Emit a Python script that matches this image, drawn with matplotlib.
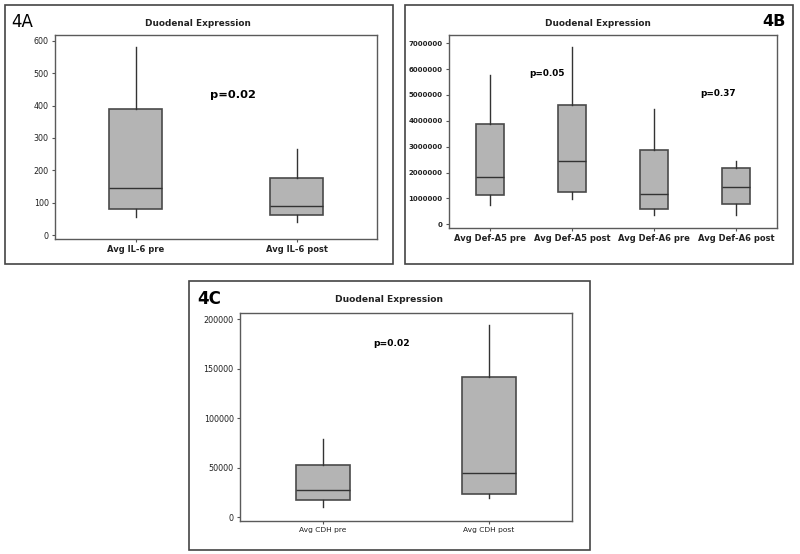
import matplotlib
matplotlib.use("Agg")
import matplotlib.pyplot as plt
from matplotlib.patches import Rectangle

W, H = 800, 554

# ---- data (whisker low, Q1, median, Q3, whisker high) ----
il6_labels = ["Avg IL-6 pre", "Avg IL-6 post"]
il6_low = [56, 41]
il6_q1 = [80, 62]
il6_med = [147, 90]
il6_q3 = [389, 177]
il6_high = [580, 265]

def_labels = ["Avg Def-A5 pre", "Avg Def-A5 post", "Avg Def-A6 pre", "Avg Def-A6 post"]
def_low = [750000, 970000, 360000, 360000]
def_q1 = [1130000, 1240000, 580000, 770000]
def_med = [1820000, 2440000, 1180000, 1430000]
def_q3 = [3870000, 4600000, 2890000, 2170000]
def_high = [5770000, 6870000, 4450000, 2460000]

cdh_labels = ["Avg CDH pre", "Avg CDH post"]
cdh_low = [10400, 18900]
cdh_q1 = [16900, 23600]
cdh_med = [27000, 44200]
cdh_q3 = [52300, 141300]
cdh_high = [78900, 194200]

BOX_FILL = "#b4b4b4"
EDGE = "#4a4a4a"
TEXT = "#222222"


def px_axes(fig, left, top, right, bottom):
    return fig.add_axes([left / W, 1 - bottom / H, (right - left) / W, (bottom - top) / H])


def frame(fig, left, top, right, bottom):
    fig.patches.append(Rectangle((left / W, 1 - bottom / H), (right - left) / W, (bottom - top) / H,
                                 transform=fig.transFigure, fill=False, edgecolor="#444444", lw=1.2))


def draw_boxes(ax, labels, low, q1, med, q3, high, width):
    stats = []
    for i in range(len(labels)):
        stats.append(dict(whislo=low[i], q1=q1[i], med=med[i], q3=q3[i], whishi=high[i], fliers=[]))
    ax.bxp(stats, positions=range(1, len(labels) + 1), widths=width, patch_artist=True,
           showcaps=False, showfliers=False,
           boxprops=dict(facecolor=BOX_FILL, edgecolor=EDGE, lw=1.2),
           medianprops=dict(color="#333333", lw=1.0),
           whiskerprops=dict(color="#333333", lw=1.0))
    ax.set_xlim(0.5, len(labels) + 0.5)
    ax.set_xticks(range(1, len(labels) + 1))
    ax.set_xticklabels(labels)
    for sp in ax.spines.values():
        sp.set_color("#5a5a5a")
        sp.set_linewidth(1.0)
    ax.tick_params(axis="both", direction="out", length=2.5, width=0.8, color="#555555",
                   labelcolor=TEXT, pad=2)
    ax.tick_params(axis="x", length=2)
    return ax


fig = plt.figure(figsize=(W / 100, H / 100), dpi=100)
fig.patch.set_facecolor("white")

# ---- 4A ----
frame(fig, 5, 5, 393, 264)
axA = px_axes(fig, 55, 35, 377, 239)
draw_boxes(axA, il6_labels, il6_low, il6_q1, il6_med, il6_q3, il6_high, 0.33)
axA.set_ylim(-12, 618)
axA.set_yticks(range(0, 601, 100))
axA.tick_params(axis="y", labelsize=5.8)
axA.tick_params(axis="x", labelsize=6.0)
for t in axA.get_xticklabels():
    t.set_fontweight("bold")
fig.text(233 / W, 1 - 95 / H, "p=0.02", ha="center", va="center", fontsize=8.2,
         fontweight="bold", color="black")
fig.text(198 / W, 1 - 23 / H, "Duodenal Expression", ha="center", va="center", fontsize=6.4,
         fontweight="bold", color=TEXT)
fig.text(11 / W, 1 - 22 / H, "4A", ha="left", va="center", fontsize=12, color="black")

# ---- 4B ----
frame(fig, 405, 5, 793, 264)
axB = px_axes(fig, 449, 35, 777, 228)
draw_boxes(axB, def_labels, def_low, def_q1, def_med, def_q3, def_high, 0.34)
axB.set_ylim(-145000, 7320000)
axB.set_yticks(range(0, 7000001, 1000000))
axB.set_yticklabels([str(v) for v in range(0, 7000001, 1000000)])
axB.tick_params(axis="y", labelsize=5.0)
axB.tick_params(axis="x", labelsize=6.0)
for t in axB.get_yticklabels() + axB.get_xticklabels():
    t.set_fontweight("bold")
fig.text(547 / W, 1 - 73 / H, "p=0.05", ha="center", va="center", fontsize=6.4,
         fontweight="bold", color="black")
fig.text(718 / W, 1 - 94 / H, "p=0.37", ha="center", va="center", fontsize=6.4,
         fontweight="bold", color="black")
fig.text(598 / W, 1 - 23 / H, "Duodenal Expression", ha="center", va="center", fontsize=6.4,
         fontweight="bold", color=TEXT)
fig.text(786 / W, 1 - 22 / H, "4B", ha="right", va="center", fontsize=11.5,
         fontweight="bold", color="black")

# ---- 4C ----
frame(fig, 189, 281, 590, 550)
axC = px_axes(fig, 240, 313, 572, 521)
draw_boxes(axC, cdh_labels, cdh_low, cdh_q1, cdh_med, cdh_q3, cdh_high, 0.33)
axC.set_ylim(-4000, 206400)
axC.set_yticks(range(0, 200001, 50000))
axC.set_yticklabels([str(v) for v in range(0, 200001, 50000)])
axC.tick_params(axis="y", labelsize=5.8)
axC.tick_params(axis="x", labelsize=5.4)
fig.text(392 / W, 1 - 343 / H, "p=0.02", ha="center", va="center", fontsize=6.6,
         fontweight="bold", color="black")
fig.text(389 / W, 1 - 300 / H, "Duodenal Expression", ha="center", va="center", fontsize=6.6,
         fontweight="bold", color=TEXT)
fig.text(197 / W, 1 - 299 / H, "4C", ha="left", va="center", fontsize=12,
         fontweight="bold", color="black")

fig.savefig("out.png", dpi=100, facecolor="white")
